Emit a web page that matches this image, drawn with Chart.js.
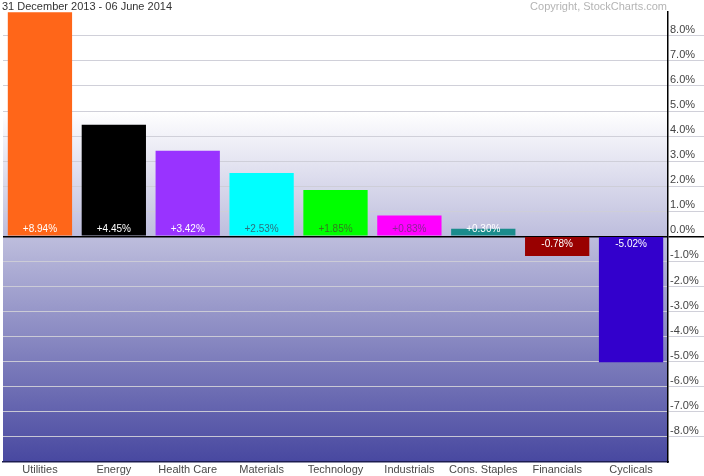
<!DOCTYPE html>
<html>
<head>
<meta charset="utf-8">
<script src="https://cdn.jsdelivr.net/npm/chart.js@4/dist/chart.umd.min.js"></script>
<style>
  html, body { margin: 0; padding: 0; background: #fff; }
  #wrap { width: 704px; height: 476px; }
</style>
</head>
<body>
<div id="wrap"><canvas id="chart"></canvas></div>
<script>
// sector performance, 31 Dec 2013 - 06 Jun 2014
var sectors = ["Utilities", "Energy", "Health Care", "Materials", "Technology", "Industrials", "Cons. Staples", "Financials", "Cyclicals"];
var changes = [8.94, 4.45, 3.42, 2.53, 1.85, 0.83, 0.30, -0.78, -5.02];
var barColors = ["#ff6619", "#000000", "#9933ff", "#00ffff", "#00ff00", "#ff00ff", "#1a8c8c", "#990000", "#3300cc"];
var textColors = ["#ffffff", "#ffffff", "#ffffff", "#2d6f7d", "#357a20", "#8c2496", "#ffffff", "#ffffff", "#ffffff"];

var font = "'Liberation Sans', Arial, sans-serif";

var bgPlugin = {
  id: "bg",
  beforeDraw: function(chart) {
    var ctx = chart.ctx, a = chart.chartArea, y = chart.scales.y;
    var g = ctx.createLinearGradient(0, y.getPixelForValue(5), 0, a.bottom);
    g.addColorStop(0, "#ffffff");
    g.addColorStop(1, "#4848a0");
    ctx.save();
    ctx.fillStyle = g;
    ctx.fillRect(a.left, a.top, a.right - a.left, a.bottom - a.top);
    ctx.restore();
  },
  afterDraw: function(chart) {
    var ctx = chart.ctx, a = chart.chartArea;
    ctx.save();
    ctx.font = "11px " + font;
    ctx.textBaseline = "alphabetic";
    ctx.fillStyle = "#333333";
    ctx.textAlign = "left";
    ctx.fillText("31 December 2013 - 06 June 2014", 2, 10);
    ctx.fillStyle = "#b4b4b4";
    ctx.textAlign = "right";
    ctx.fillText("Copyright, StockCharts.com", a.right - 1, 10);
    ctx.restore();
  }
};

var valuePlugin = {
  id: "values",
  afterDatasetsDraw: function(chart) {
    var ctx = chart.ctx, meta = chart.getDatasetMeta(0);
    var zero = chart.scales.y.getPixelForValue(0);
    ctx.save();
    ctx.font = "10px " + font;
    ctx.textAlign = "center";
    ctx.textBaseline = "middle";
    meta.data.forEach(function(bar, i) {
      var v = changes[i];
      var txt = (v >= 0 ? "+" : "") + v.toFixed(2) + "%";
      ctx.fillStyle = textColors[i];
      ctx.fillText(txt, bar.x, v >= 0 ? zero - 7 : zero + 8);
    });
    ctx.restore();
  }
};

var canvas = document.getElementById("chart");
var config = {
  type: "bar",
  data: {
    labels: sectors,
    datasets: [{
      data: changes,
      backgroundColor: barColors,
      borderWidth: 0,
      categoryPercentage: 0.87,
      barPercentage: 1.0
    }]
  },
  options: {
    responsive: true,
    maintainAspectRatio: false,
    animation: false,
    layout: { padding: { top: 12, left: 3, right: 0, bottom: 0 } },
    plugins: { legend: { display: false }, tooltip: { enabled: false } },
    scales: {
      x: {
        grid: { display: false, drawTicks: false },
        border: { display: true, color: "#1c1c50", width: 1.5 },
        ticks: { color: "#4a4a4a", font: { family: font, size: 11 }, padding: 1, maxRotation: 0, autoSkip: false },
        afterFit: function(s) { s.height = 14; }
      },
      y: {
        position: "right",
        min: -9,
        max: 8.95,
        grid: {
          color: function(c) {
            if (!c.tick) return "rgba(0,0,0,0)";
            if (c.tick.value === 0) return "#000000";
            if (c.tick.value < -8.5) return "rgba(0,0,0,0)";
            return "rgba(205,205,215,0.95)";
          },
          lineWidth: function(c) { return c.tick && c.tick.value === 0 ? 1.5 : 1; },
          drawTicks: true,
          tickLength: 36
        },
        border: { display: true, color: "#000000", width: 1.5 },
        ticks: {
          stepSize: 1,
          includeBounds: false,
          padding: -34,
          labelOffset: -6,
          color: "#444444",
          font: { family: font, size: 11 },
          callback: function(v) { return v < -8.5 ? "" : v.toFixed(1) + "%"; }
        },
        afterFit: function(s) { s.width = 36; }
      }
    }
  },
  plugins: [bgPlugin, valuePlugin]
};

var barchart = new Chart(canvas, config);
</script>
</body>
</html>
